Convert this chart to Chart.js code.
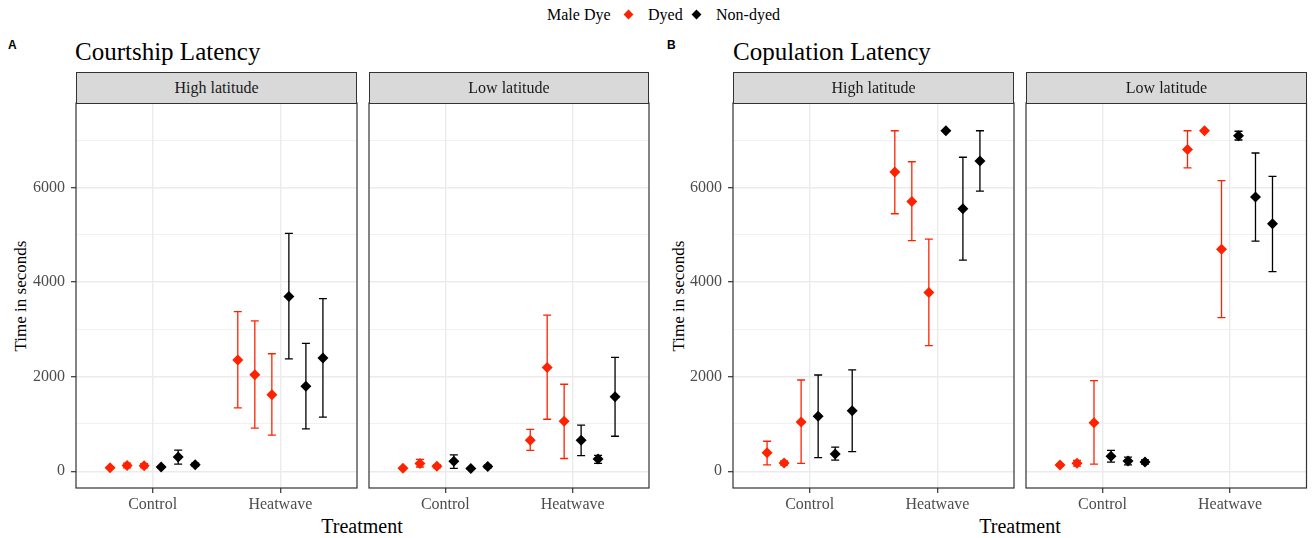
<!DOCTYPE html>
<html>
<head>
<meta charset="utf-8">
<script src="https://cdn.jsdelivr.net/npm/chart.js@4"></script>
<style>
  body { margin: 0; background: #fff; }
  #page { position: relative; width: 1312px; height: 538px; overflow: hidden; font-family: 'Liberation Serif', serif; }
  #page canvas { position: absolute; }
  .txt { position: absolute; white-space: nowrap; line-height: 1; }
  .strip { position: absolute; box-sizing: border-box; background: #d9d9d9; border: 1px solid #333;
           color: #1a1a1a; font-size: 16px; text-align: center; line-height: 29px; }
  .tag { font-family: 'Liberation Sans', Arial, sans-serif; font-weight: bold; font-size: 12px; }
  .ytitle { transform: translate(-50%, -50%) rotate(-90deg); font-size: 17px; color: #000; }
  .xtitle { transform: translateX(-50%); font-size: 20px; color: #000; }
  .diamond { position: absolute; width: 7px; height: 7px; transform: rotate(45deg); }
</style>
</head>
<body>
<div id="page">
  <div class="txt" style="left:547px;top:7px;font-size:16px;">Male Dye</div>
  <div class="diamond" style="left:625px;top:11px;background:#ff2200;"></div>
  <div class="txt" style="left:648px;top:7px;font-size:16px;">Dyed</div>
  <div class="diamond" style="left:693px;top:11px;background:#000;"></div>
  <div class="txt" style="left:716px;top:7px;font-size:16px;">Non-dyed</div>

  <div class="txt tag" style="left:8px;top:39px;">A</div>
  <div class="txt" style="left:75px;top:39px;font-size:25px;">Courtship Latency</div>
  <div class="txt tag" style="left:667px;top:39px;">B</div>
  <div class="txt" style="left:733px;top:39px;font-size:25px;">Copulation Latency</div>

  <div class="txt ytitle" style="left:20px;top:296px;">Time in seconds</div>
  <div class="txt ytitle" style="left:678px;top:296px;">Time in seconds</div>
  <div class="txt xtitle" style="left:362px;top:516px;">Treatment</div>
  <div class="txt xtitle" style="left:1020px;top:516px;">Treatment</div>

  <canvas id="c0"></canvas>
  <canvas id="c1"></canvas>
  <canvas id="c2"></canvas>
  <canvas id="c3"></canvas>
</div>
<script>
// categories
const treatments = ['Control', 'Heatwave'];
const dyeGroups = ['Dyed', 'Non-dyed'];
const facetTitles = ['High latitude', 'Low latitude'];
const yTicks = [0, 1000, 2000, 3000, 4000, 5000, 6000, 7000];

// each array: Control (Dyed 1-3, Non-dyed 1-3), then Heatwave (Dyed 1-3, Non-dyed 1-3)
const courtHighMean = [75, 120, 115, 90, 300, 140, 2350, 2040, 1620, 3695, 1800, 2395];
const courtHighLo   = [60, 70, 70, 75, 150, 110, 1340, 910, 765, 2375, 895, 1145];
const courtHighHi   = [90, 170, 160, 105, 445, 170, 3375, 3180, 2485, 5030, 2705, 3650];

const courtLowMean = [65, 165, 105, 210, 60, 100, 655, 2195, 1055, 655, 260, 1575];
const courtLowLo   = [50, 90, 70, 60, 45, 70, 440, 1100, 270, 330, 165, 740];
const courtLowHi   = [80, 250, 140, 345, 75, 130, 885, 3300, 1840, 975, 335, 2410];

const copHighMean = [390, 175, 1040, 1165, 365, 1280, 6330, 5705, 3780, 7200, 5550, 6560];
const copHighLo   = [135, 130, 165, 290, 235, 415, 5445, 4875, 2655, 7200, 4465, 5925];
const copHighHi   = [635, 220, 1930, 2035, 510, 2145, 7200, 6545, 4910, 7200, 6640, 7200];

const copLowMean = [130, 170, 1025, 320, 215, 195, 6805, 7200, 4695, 7095, 5800, 5235];
const copLowLo   = [110, 110, 150, 195, 135, 150, 6415, 7200, 3250, 7005, 4865, 4220];
const copLowHi   = [150, 230, 1915, 440, 300, 240, 7200, 7200, 6145, 7190, 6730, 6235];

const dyeColors = ['#ff2200', '#000000'];

// error bars drawn under the points
const errorBars = {
    id: 'errorBars',
    beforeDatasetsDraw(chart) {
        const { ctx, scales: { x, y } } = chart;
        chart.data.datasets.forEach(ds => {
            ctx.save();
            ctx.strokeStyle = ds.borderColor;
            ctx.lineWidth = 1.3;
            ds.data.forEach((p, i) => {
                if (ds.hi[i] === ds.lo[i]) return;
                const px = x.getPixelForValue(p.x);
                const top = y.getPixelForValue(ds.hi[i]);
                const bot = y.getPixelForValue(ds.lo[i]);
                ctx.beginPath();
                ctx.moveTo(px, top); ctx.lineTo(px, bot);
                ctx.moveTo(px - 4, top); ctx.lineTo(px + 4, top);
                ctx.moveTo(px - 4, bot); ctx.lineTo(px + 4, bot);
                ctx.stroke();
            });
            ctx.restore();
        });
    }
};

// panel border like theme_bw
const panelBorder = {
    id: 'panelBorder',
    afterDraw(chart) {
        const { ctx, chartArea: a } = chart;
        ctx.save();
        ctx.strokeStyle = '#333';
        ctx.lineWidth = 1.2;
        ctx.strokeRect(a.left, a.top, a.right - a.left, a.bottom - a.top);
        ctx.restore();
    }
};

function buildDatasets(mean, lo, hi) {
    return dyeGroups.map((name, g) => {
        const pts = [], los = [], his = [];
        treatments.forEach((t, ti) => {
            for (let r = 0; r < 3; r++) {
                const slot = g * 3 + r;
                const idx = ti * 6 + slot;
                pts.push({ x: ti + 1 + (slot - 2.5) * 0.1333, y: mean[idx] });
                los.push(lo[idx]);
                his.push(hi[idx]);
            }
        });
        return {
            label: name,
            data: pts,
            lo: los,
            hi: his,
            backgroundColor: dyeColors[g],
            borderColor: dyeColors[g],
            pointStyle: 'rectRot',
            pointRadius: 5.5,
            pointBorderWidth: 0,
            showLine: false
        };
    });
}

function makeFacet(id, box, mean, lo, hi, showY) {
    const canvas = document.getElementById(id);
    canvas.style.left = box.left + 'px';
    canvas.style.top = box.top + 'px';
    canvas.style.width = box.width + 'px';
    canvas.style.height = box.height + 'px';
    canvas.width = box.width;
    canvas.height = box.height;

    const tickFont = { family: 'Liberation Serif', size: 16 };
    return new Chart(canvas, {
        type: 'scatter',
        data: { datasets: buildDatasets(mean, lo, hi) },
        options: {
            responsive: false,
            animation: false,
            layout: { padding: box.pad },
            plugins: { legend: { display: false }, tooltip: { enabled: false } },
            scales: {
                x: {
                    type: 'linear',
                    min: 0.4,
                    max: 2.6,
                    afterBuildTicks: s => { s.ticks = treatments.map((t, i) => ({ value: i + 1 })); },
                    afterFit: s => { s.height = 30; },
                    ticks: {
                        callback: v => treatments[Math.round(v) - 1],
                        font: tickFont,
                        color: '#4d4d4d',
                        padding: 2,
                        autoSkip: false,
                        maxRotation: 0
                    },
                    grid: { color: '#ebebeb', lineWidth: 1.4, tickColor: '#333', tickLength: 5, tickWidth: 1.2 },
                    border: { display: false }
                },
                y: {
                    min: -354,
                    max: 7787,
                    afterBuildTicks: s => { s.ticks = yTicks.map(v => ({ value: v })); },
                    afterFit: s => { s.width = showY ? box.yw : 0; },
                    ticks: {
                        display: showY,
                        callback: v => (v % 2000 === 0 ? String(v) : ''),
                        font: tickFont,
                        color: '#4d4d4d',
                        padding: 6
                    },
                    grid: {
                        color: '#ebebeb',
                        lineWidth: c => (c.tick && c.tick.value % 2000 === 0 ? 1.4 : 0.7),
                        drawTicks: showY,
                        tickLength: 5,
                        tickWidth: 1.2,
                        tickColor: c => (c.tick && c.tick.value % 2000 === 0 ? '#333' : 'rgba(0,0,0,0)')
                    },
                    border: { display: false }
                }
            }
        },
        plugins: [errorBars, panelBorder]
    });
}

// strips above each facet
const facetBoxes = [
    { left: 76, right: 357 }, { left: 369, right: 649 },
    { left: 733, right: 1014 }, { left: 1026, right: 1307 }
];
facetBoxes.forEach((f, i) => {
    const d = document.createElement('div');
    d.className = 'strip';
    d.style.left = f.left + 'px';
    d.style.top = '72px';
    d.style.width = (f.right - f.left) + 'px';
    d.style.height = '32px';
    d.textContent = facetTitles[i % 2];
    document.getElementById('page').appendChild(d);
});

const top0 = 83, h0 = 435;
makeFacet('c0', { left: 0, top: top0, width: 367, height: h0, yw: 76, pad: { top: 20, left: 0, right: 10, bottom: 0 } },
    courtHighMean, courtHighLo, courtHighHi, true);
makeFacet('c1', { left: 359, top: top0, width: 300, height: h0, pad: { top: 20, left: 10, right: 10, bottom: 0 } },
    courtLowMean, courtLowLo, courtLowHi, false);
makeFacet('c2', { left: 660, top: top0, width: 364, height: h0, yw: 73, pad: { top: 20, left: 0, right: 10, bottom: 0 } },
    copHighMean, copHighLo, copHighHi, true);
makeFacet('c3', { left: 1016, top: top0, width: 296, height: h0, pad: { top: 20, left: 10, right: 5, bottom: 0 } },
    copLowMean, copLowLo, copLowHi, false);
</script>
</body>
</html>
